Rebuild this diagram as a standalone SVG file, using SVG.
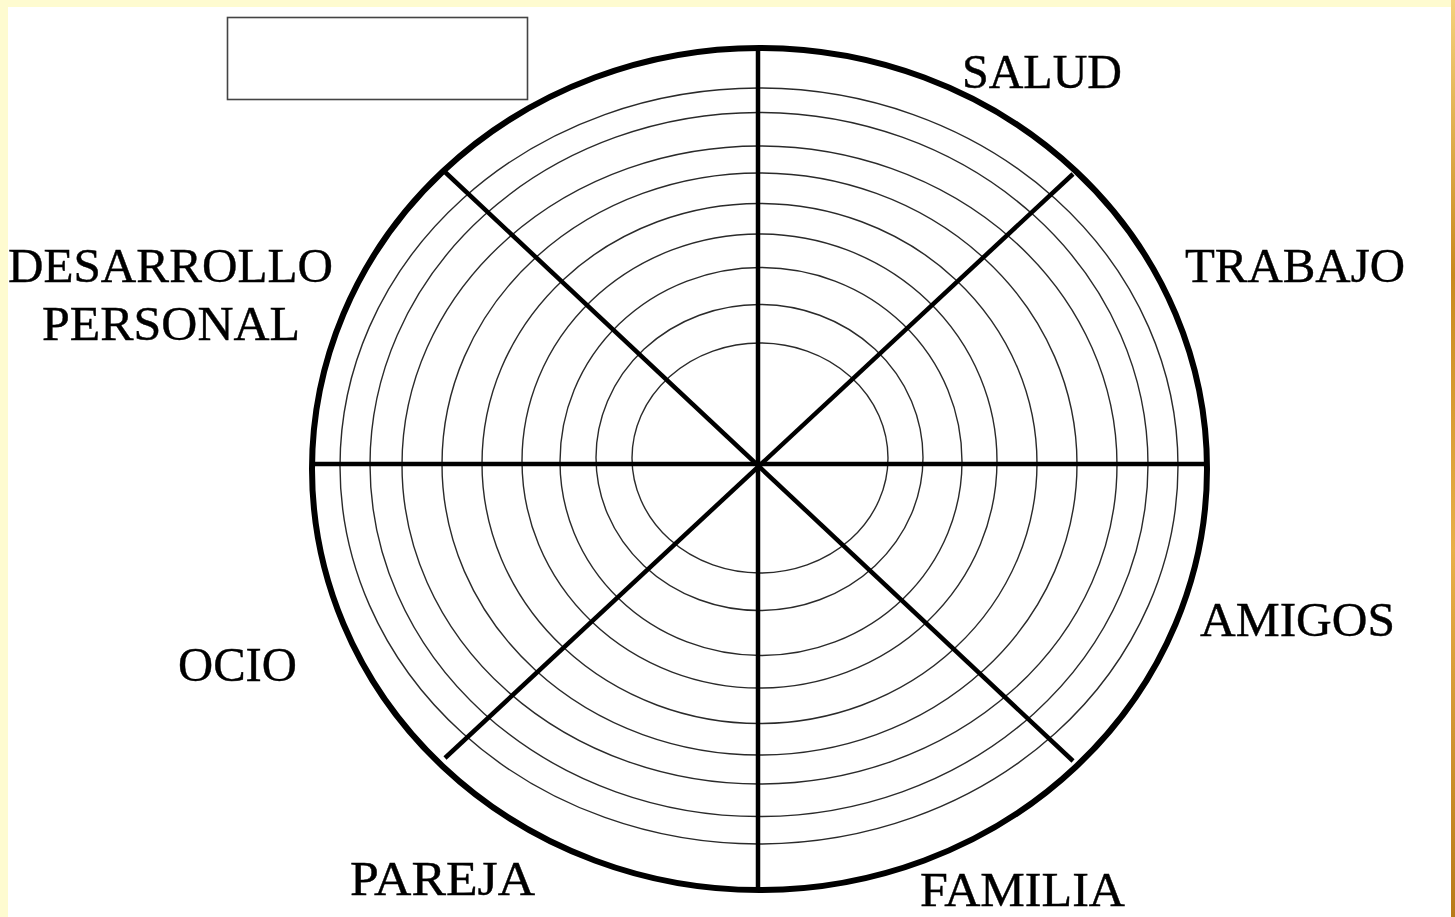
<svg xmlns="http://www.w3.org/2000/svg" width="1455" height="917" viewBox="0 0 1455 917">
<style>
.ring{fill:none;stroke:#2a2a2a;stroke-width:1.4}
.outer{fill:none;stroke:#000;stroke-width:6}
.spoke{stroke:#000;stroke-width:4.5;stroke-linecap:butt}
.lbl{font-family:"Liberation Serif","Times New Roman",serif;font-size:49px;fill:#000;stroke:#000;stroke-width:0.4}
</style>
<defs>
<linearGradient id="gold" x1="0" y1="0" x2="0" y2="1">
<stop offset="0" stop-color="#f4d27a"/>
<stop offset="0.3" stop-color="#c88a1e"/>
<stop offset="0.6" stop-color="#e8b048"/>
<stop offset="1" stop-color="#b87a18"/>
</linearGradient>
</defs>
<rect x="0" y="0" width="1455" height="917" fill="#fefbd0"/>
<rect x="1451" y="0" width="4" height="917" fill="url(#gold)"/>
<rect x="8" y="7" width="1443" height="910" fill="#ffffff"/>
<g id="name-box">
<rect x="227.5" y="17.5" width="300" height="82" fill="#fff" stroke="#444" stroke-width="1.6"/>
</g>
<g id="wheel">
<ellipse class="ring" cx="760" cy="458" rx="128" ry="115"/>
<ellipse class="ring" cx="759.5" cy="457.5" rx="163.5" ry="153"/>
<ellipse class="ring" cx="761" cy="461.5" rx="201" ry="194"/>
<ellipse class="ring" cx="759.5" cy="461" rx="237.5" ry="227"/>
<ellipse class="ring" cx="759.5" cy="463.5" rx="277.5" ry="260"/>
<ellipse class="ring" cx="759.5" cy="464" rx="317.5" ry="291"/>
<ellipse class="ring" cx="759.5" cy="465" rx="357.5" ry="319"/>
<ellipse class="ring" cx="759" cy="464.5" rx="389" ry="352"/>
<ellipse class="ring" cx="759" cy="466" rx="419" ry="378"/>
<ellipse class="outer" cx="759.5" cy="469" rx="447.5" ry="421"/>
</g>
<g id="connectors">
<line class="spoke" x1="758" y1="49" x2="758" y2="890"/>
<line class="spoke" x1="312" y1="464" x2="1207" y2="464"/>
<line class="spoke" x1="445" y1="172" x2="1073" y2="761"/>
<line class="spoke" x1="1073" y1="174" x2="445" y2="758"/>
</g>
<g id="label-salud"><text class="lbl" x="962" y="88" textLength="160" lengthAdjust="spacingAndGlyphs">SALUD</text></g>
<g id="label-trabajo"><text class="lbl" x="1185" y="282" textLength="220" lengthAdjust="spacingAndGlyphs">TRABAJO</text></g>
<g id="label-desarrollo"><text class="lbl" x="8" y="282" textLength="325" lengthAdjust="spacingAndGlyphs">DESARROLLO</text><text class="lbl" x="42" y="340" textLength="258" lengthAdjust="spacingAndGlyphs">PERSONAL</text></g>
<g id="label-amigos"><text class="lbl" x="1200" y="636" textLength="195" lengthAdjust="spacingAndGlyphs">AMIGOS</text></g>
<g id="label-ocio"><text class="lbl" x="178" y="681" textLength="119" lengthAdjust="spacingAndGlyphs">OCIO</text></g>
<g id="label-pareja"><text class="lbl" x="350" y="895" textLength="185" lengthAdjust="spacingAndGlyphs">PAREJA</text></g>
<g id="label-familia"><text class="lbl" x="920" y="906" textLength="205" lengthAdjust="spacingAndGlyphs">FAMILIA</text></g>
</svg>
